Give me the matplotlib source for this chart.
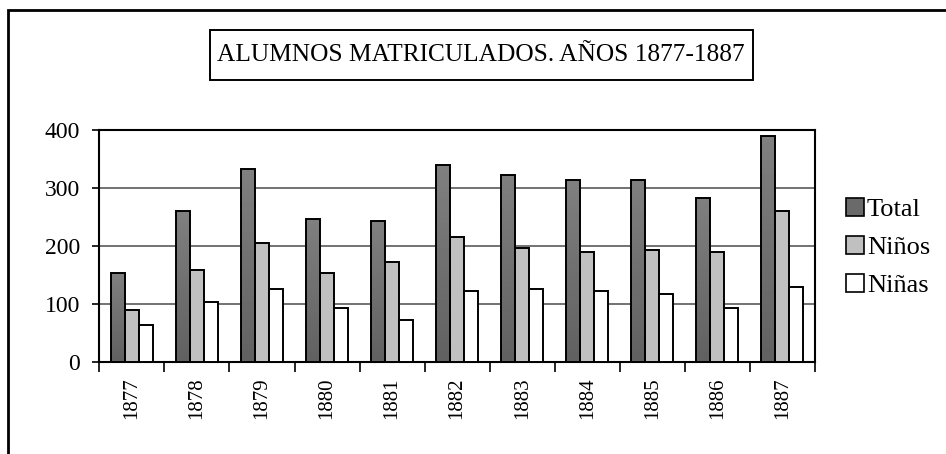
import matplotlib
matplotlib.use("Agg")
import matplotlib.pyplot as plt
import numpy as np
from matplotlib.patches import Rectangle

plt.rcParams['font.family'] = ['Liberation Serif', 'DejaVu Serif']

years = ['1877', '1878', '1879', '1880', '1881', '1882', '1883', '1884', '1885', '1886', '1887']
total = [153, 260, 333, 247, 243, 340, 322, 313, 313, 283, 390]
ninos = [90, 159, 206, 153, 173, 216, 197, 190, 193, 190, 260]
ninas = [63, 103, 126, 93, 73, 122, 126, 122, 117, 93, 130]
series_names = ['Total', 'Niños', 'Niñas']
title_text = 'ALUMNOS MATRICULADOS. AÑOS 1877-1887'

fig = plt.figure(figsize=(9.46, 4.54), dpi=100)
ax = fig.add_axes([0.105, 0.2026, 0.7565, 0.5111])

x = np.arange(len(years))
w = 0.215
lw_bar = 1.4
b_tot = ax.bar(x - w, total, w, color='#707070', edgecolor='black', linewidth=lw_bar, zorder=3)
b_nin = ax.bar(x, ninos, w, color='#c0c0c0', edgecolor='black', linewidth=lw_bar, zorder=3)
b_nas = ax.bar(x + w, ninas, w, color='white', edgecolor='black', linewidth=lw_bar, zorder=3)

# gradient fill for Total bars
grad = np.linspace(0.50, 0.38, 64).reshape(-1, 1)
for bar in b_tot:
    x0, y0 = bar.get_x(), bar.get_y()
    im = ax.imshow(grad, cmap='gray', vmin=0, vmax=1, aspect='auto',
                   extent=(x0, x0 + bar.get_width(), y0, y0 + bar.get_height()),
                   origin='upper', zorder=3.5)
    im.set_clip_path(bar)
    bar.set_facecolor('none')
    bar.set_zorder(4)

ax.set_xlim(-0.5, len(years) - 0.5)
ax.set_ylim(0, 400)
ax.set_yticks([0, 100, 200, 300, 400])
ax.yaxis.grid(True, color='#5a5a5a', linewidth=1.2, zorder=0)
ax.set_axisbelow(True)

ax.set_xticks(np.arange(-0.5, len(years), 1.0))
ax.set_xticklabels([])
ax.set_xticks(x, minor=True)
ax.set_xticklabels(years, minor=True, rotation=90, fontsize=15)
ax.tick_params(axis='x', which='major', direction='out', length=7, width=1.2)
ax.tick_params(axis='x', which='minor', length=0, pad=11)
ax.tick_params(axis='y', direction='out', length=5, width=1.2, labelsize=17, pad=9)
for s in ax.spines.values():
    s.set_linewidth(1.5)

# title with box
fig.text(0.5085, 0.879, title_text, ha='center', va='center', fontsize=18.3)
fig.patches.append(Rectangle((210 / 946, 1 - 80 / 454), 543 / 946, 50 / 454,
                             transform=fig.transFigure, fill=False, edgecolor='black',
                             linewidth=1.4, figure=fig))

handles = [Rectangle((0, 0), 1, 1, facecolor=c, edgecolor='black', linewidth=1.2)
           for c in ['#6a6a6a', '#c0c0c0', 'white']]
fig.legend(handles, series_names, loc='center left', bbox_to_anchor=(0.894, 0.455),
           frameon=False, fontsize=19, handlelength=0.7, handleheight=0.7,
           handletextpad=0.1, labelspacing=0.55, borderpad=0, borderaxespad=0)

# outer chart border (left and top visible)
fig.patches.append(Rectangle((8 / 946, -0.2), 1.2, 1.2 - 10 / 454, transform=fig.transFigure,
                             fill=False, edgecolor='black', linewidth=2, figure=fig))

fig.savefig('out.png', dpi=100)
